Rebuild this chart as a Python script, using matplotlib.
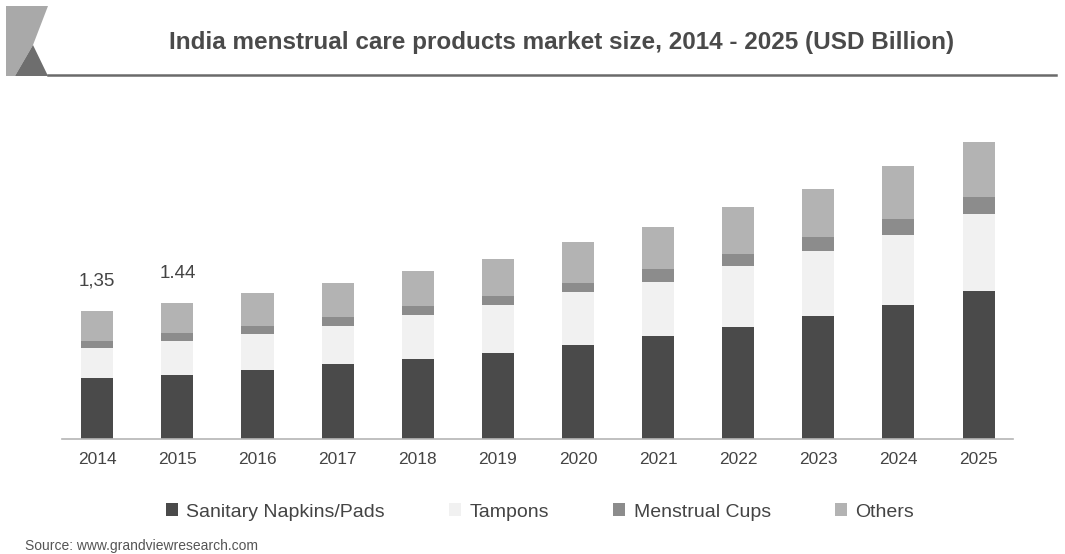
import matplotlib
matplotlib.use('Agg')
import matplotlib.pyplot as plt
import numpy as np
from matplotlib.patches import Polygon

years = ['2014', '2015', '2016', '2017', '2018', '2019', '2020', '2021', '2022', '2023', '2024', '2025']
napkins = [0.65, 0.68, 0.73, 0.80, 0.855, 0.915, 1.00, 1.10, 1.19, 1.31, 1.43, 1.57]
tampons = [0.32, 0.36, 0.39, 0.40, 0.46, 0.51, 0.56, 0.575, 0.65, 0.69, 0.74, 0.82]
cups = [0.07, 0.085, 0.08, 0.10, 0.10, 0.10, 0.10, 0.13, 0.125, 0.15, 0.17, 0.18]
others = [0.32, 0.32, 0.35, 0.36, 0.37, 0.39, 0.44, 0.45, 0.50, 0.51, 0.56, 0.585]
labels = {0: '1,35', 1: '1.44'}
series_names = ['Sanitary Napkins/Pads', 'Tampons', 'Menstrual Cups', 'Others']

plt.rcParams['font.family'] = ['Liberation Sans', 'DejaVu Sans']

W, H = 1065, 554
fig = plt.figure(figsize=(W / 100, H / 100), dpi=100)

# axes placed in pixel terms
left, right, top, base = 62, 1013, 130, 439
ax = fig.add_axes([left / W, 1 - base / H, (right - left) / W, (base - top) / H])

colors = ['#4a4a4a', '#f1f1f1', '#8c8c8c', '#b3b3b3']
x = np.arange(len(years))
bottom = np.zeros(len(years))
for vals, c, name in zip([napkins, tampons, cups, others], colors, series_names):
    ax.bar(x, vals, width=0.4, bottom=bottom, color=c, label=name)
    bottom += np.array(vals)

for i, t in labels.items():
    ax.text(x[i], bottom[i] + 0.32, t, ha='center', va='center',
            fontsize=13.5, color='#444444')

ax.set_xlim(-0.44, 11.43)
ax.set_ylim(0, (base - top) / 94)
ax.set_xticks(x)
ax.set_xticklabels(years, fontsize=12.5, color='#444444')
ax.tick_params(axis='x', length=0, pad=9)
ax.set_yticks([])
for s in ['top', 'right', 'left']:
    ax.spines[s].set_visible(False)
ax.spines['bottom'].set_color('#b5b5b5')
ax.spines['bottom'].set_linewidth(1.2)

# title + header rule
fig.text(562 / W, 1 - 42 / H, 'India menstrual care products market size, 2014 - 2025 (USD Billion)',
         ha='center', va='center', fontsize=17.5, fontweight='bold', color='#4a4a4a')
fig.add_artist(plt.Line2D([48 / W, 1056 / W], [1 - 75 / H, 1 - 75 / H], color='#6a6a6a', lw=1.8))

# logo
def px(pts):
    return [(a / W, 1 - b / H) for a, b in pts]

fig.add_artist(Polygon(px([(6, 6), (48, 6), (33, 45), (15, 76), (6, 76)]),
                       closed=True, transform=fig.transFigure, color='#a9a9a9', lw=0))
fig.add_artist(Polygon(px([(33, 45), (48, 76), (15, 76)]),
                       closed=True, transform=fig.transFigure, color='#6e6e6e', lw=0))

leg = fig.legend(loc='center', bbox_to_anchor=(540 / W, 1 - 512 / H), ncol=4, frameon=False,
                 fontsize=14, handlelength=0.6, handleheight=0.6, handletextpad=0.45,
                 columnspacing=3.3, labelcolor='#444444')

fig.text(25 / W, 1 - 546 / H, 'Source: www.grandviewresearch.com', ha='left', va='center',
         fontsize=10, color='#555555')

fig.savefig('out.png', dpi=100)
